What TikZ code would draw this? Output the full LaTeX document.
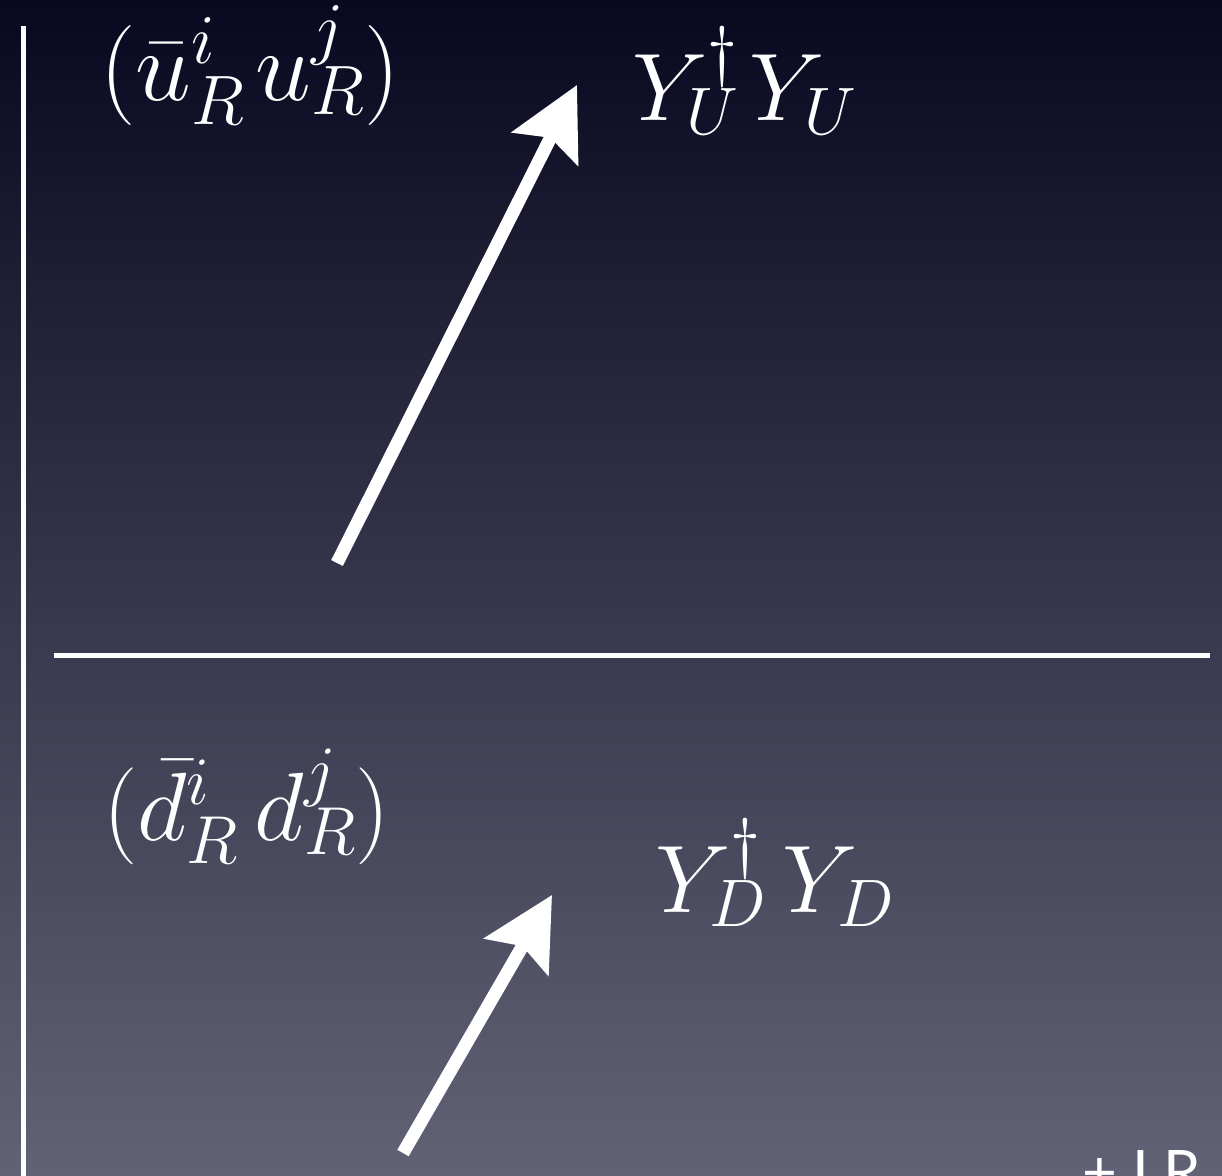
\RequirePackage{fix-cm}
\documentclass[tikz,border=0pt]{standalone}
\usepackage[no-math]{fontspec}
\usetikzlibrary{arrows.meta}
\newfontfamily\slidesans{Lato}
\definecolor{slidetop}{RGB}{8,8,32}
\definecolor{slidemid}{RGB}{50,50,76}
\definecolor{slidebot}{RGB}{98,98,118}

\begin{document}
\begin{tikzpicture}[x=1pt,y=-1pt,
  rule/.style={white, line width=5pt},
  flow/.style={white, line width=13pt, -{Stealth[length=71pt, width=73pt, inset=12pt]}},
  lbl/.style={white, inner sep=0pt, anchor=base west}]
\useasboundingbox (0,0) rectangle (1222,1175);
% Background
\shade[top color=slidetop, middle color=slidemid, bottom color=slidebot] (0,0) rectangle (1222,1175);
% Frame lines
\draw[rule] (23,26) -- (23,1190);
\draw[rule] (54,655) -- (1210,655);
% Up-type block
\node[lbl, font=\fontsize{100}{120}\selectfont] (upair) at (100,100) {$(\bar u^i_R\mkern2mu u^j_R)$};
\node[lbl, font=\fontsize{96}{110}\selectfont] (yukU) at (632,120) {$Y_U^\dagger\mkern2mu Y_U$};
\coordinate (flowUstart) at (337,563);
\coordinate (flowUtip) at (577,85);
\draw[flow] (flowUstart) -- (flowUtip);
% Down-type block
\node[lbl, font=\fontsize{97}{110}\selectfont] (dpair) at (103,840) {$(\bar d^i_R\mkern3mu d^j_R)$};
\node[lbl, font=\fontsize{96}{110}\selectfont] (yukD) at (655,912) {$Y_D^\dagger\mkern3mu Y_D$};
\coordinate (flowDstart) at (403,1153);
\coordinate (flowDtip) at (552,895);
\draw[flow] (flowDstart) -- (flowDtip);
% Cut-off note
\node[lbl, font=\slidesans\fontsize{60}{70}\selectfont] (lrnote) at (1082,1193) {+ LR};
\end{tikzpicture}
\end{document}
